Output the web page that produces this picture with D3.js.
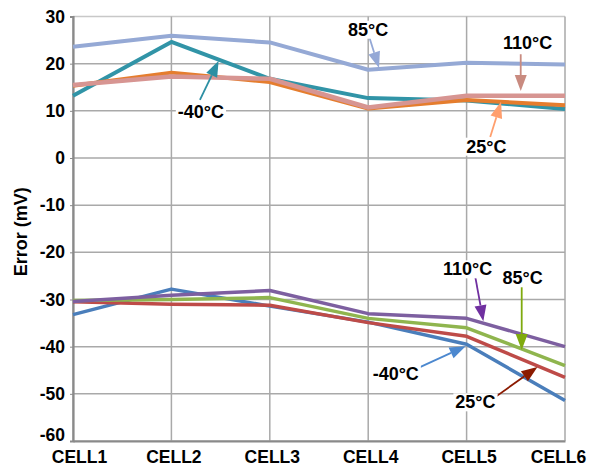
<!DOCTYPE html>
<html>
<head>
<meta charset="utf-8">
<script src="https://cdn.jsdelivr.net/npm/d3@7"></script>
<style>
  body { margin: 0; background: #fff; }
  svg { display: block; font-family: "Liberation Sans", Arial, sans-serif; }
</style>
</head>
<body>
<svg></svg>
<script>
/** Chart values */
const cells = ['CELL1', 'CELL2', 'CELL3', 'CELL4', 'CELL5', 'CELL6'];
const yTicks = [30, 20, 10, 0, -10, -20, -30, -40, -50, -60];

// upper group
const upper85 = [23.6, 25.9, 24.5, 18.7, 20.2, 19.8];
const upperM40 = [13.2, 24.6, 16.8, 12.7, 12.2, 10.4];
const upper25 = [15.3, 18.1, 16.1, 10.5, 12.3, 11.2];
const upper110 = [15.5, 17.3, 16.8, 10.7, 13.2, 13.2];

// lower group
const lowerM40 = [-33.2, -27.8, -31.4, -34.8, -39.5, -51.4];
const lower25 = [-30.5, -31.0, -31.2, -34.9, -37.8, -46.5];
const lower85 = [-30.2, -30.0, -29.6, -34.0, -36.0, -44.0];
const lower110 = [-30.4, -29.1, -28.1, -33.0, -34.0, -40.0];

// annotation labels: text position and arrow [from, to], in (cell index, mV)
const labels = ['-40°C', '85°C', '110°C', '25°C', '110°C', '85°C', '-40°C', '25°C'];
const labelPos = [[1.30, 9.75], [3.0, 27.3], [4.62, 24.4], [4.20, 2.5],
                  [4.01, -23.5], [4.57, -25.4], [3.28, -45.6], [4.09, -51.7]];
const arrowFrom = [[1.29, 12.3], [3.01, 25.7], [4.55, 22.0], [4.24, 4.45],
                   [4.09, -25.4], [4.56, -27.3], [3.51, -44.5], [4.29, -50.7]];
const arrowTo = [[1.48, 20.6], [3.11, 19.1], [4.55, 14.2], [4.35, 11.9],
                 [4.17, -34.6], [4.56, -40.7], [3.99, -39.9], [4.72, -44.3]];

let width = 599;
let height = 466;
let padLeft = 73, padRight = 565, padTop = 16.5, padBottom = 441;

let svg = d3.select('svg').attr('width', width).attr('height', height);

const series = [
    { values: upper85, color: '#95A9D5', w: 4 },
    { values: upperM40, color: '#3194A7', w: 4 },
    { values: upper25, color: '#E57D2E', w: 4 },
    { values: upper110, color: '#D79592', w: 4.5 },
    { values: lowerM40, color: '#4A7EBB', w: 3.5 },
    { values: lower25, color: '#BE4B48', w: 3.5 },
    { values: lower85, color: '#8FB54E', w: 3.5 },
    { values: lower110, color: '#7D5FA0', w: 3.5 }
];
const arrowColors = ['#2C8FA3', '#94A8D6', '#C98B80', '#FF9F6E',
                     '#7030A0', '#7FAA0E', '#4C88CF', '#8B1A00'];

let xScale = d3.scalePoint().domain(cells).range([padLeft, padRight]);
let xIdx = d3.scaleLinear().domain([0, cells.length - 1]).range([padLeft, padRight]);
let yScale = d3.scaleLinear().domain([-60, 30]).range([padBottom, padTop]);

/** Grid */
svg.append('g').selectAll('line')
    .data(yTicks)
    .enter().append('line')
    .attr('x1', padLeft).attr('x2', padRight)
    .attr('y1', d => yScale(d)).attr('y2', d => yScale(d))
    .attr('stroke', d => d === 30 ? '#C8C8C8' : '#A9A9A9')
    .attr('stroke-width', 1.5);

svg.append('g').selectAll('line')
    .data(cells)
    .enter().append('line')
    .attr('x1', d => xScale(d)).attr('x2', d => xScale(d))
    .attr('y1', padTop).attr('y2', padBottom)
    .attr('stroke', '#A9A9A9')
    .attr('stroke-width', 1.5);

/** Axes */
let yAxis = d3.axisLeft(yScale).tickValues(yTicks)
    .tickFormat(d => String(d)) // plain hyphen, not the unicode minus
    .tickSize(3).tickPadding(5);
let xAxis = d3.axisBottom(xScale).tickSize(0).tickPadding(10);

let gy = svg.append('g').attr('transform', `translate(${padLeft},0)`).call(yAxis);
let gx = svg.append('g').attr('transform', `translate(0,${padBottom})`).call(xAxis);

[gx, gy].forEach(g => {
    g.select('.domain').attr('stroke', '#8A8A8A').attr('stroke-width', 2.2);
    g.selectAll('.tick line').attr('stroke', '#8A8A8A');
    g.selectAll('text')
        .attr('font-family', '"Liberation Sans", Arial, sans-serif')
        .attr('font-weight', 'bold')
        .attr('font-size', 17.5)
        .attr('fill', '#000');
});

// end labels are pulled inwards, like in the original
gx.selectAll('.tick text')
    .attr('dx', (d, i) => i === 0 ? 6 : i === cells.length - 1 ? -7 : 2);
gy.selectAll('.tick text')
    .attr('dy', d => d === -60 ? '-0.05em' : '0.32em');

svg.append('text')
    .attr('transform', `translate(27, ${(padTop + padBottom) / 2 + 3}) rotate(-90)`)
    .attr('text-anchor', 'middle')
    .attr('font-weight', 'bold')
    .attr('font-size', 18)
    .text('Error (mV)');

/** Lines */
let line = d3.line()
    .x((d, i) => xScale(cells[i]))
    .y(d => yScale(d));

svg.append('g').selectAll('path')
    .data(series)
    .enter().append('path')
    .attr('d', d => line(d.values))
    .attr('fill', 'none')
    .attr('stroke', d => d.color)
    .attr('stroke-width', d => d.w)
    .attr('stroke-linejoin', 'round');

/** Annotations */
let ann = svg.append('g');

labels.forEach((t, i) => {
    let x1 = xIdx(arrowFrom[i][0]), y1 = yScale(arrowFrom[i][1]);
    let x2 = xIdx(arrowTo[i][0]), y2 = yScale(arrowTo[i][1]);
    let ang = Math.atan2(y2 - y1, x2 - x1);
    let len = 16, half = 6;
    let bx = x2 - len * Math.cos(ang), by = y2 - len * Math.sin(ang);

    ann.append('line')
        .attr('x1', x1).attr('y1', y1).attr('x2', bx).attr('y2', by)
        .attr('stroke', arrowColors[i]).attr('stroke-width', 1.8);

    ann.append('path')
        .attr('d', `M${x2},${y2}L${bx + half * Math.sin(ang)},${by - half * Math.cos(ang)}`
                 + `L${bx - half * Math.sin(ang)},${by + half * Math.cos(ang)}Z`)
        .attr('fill', arrowColors[i]);
});

labels.forEach((t, i) => {
    let cx = xIdx(labelPos[i][0]), cy = yScale(labelPos[i][1]);
    let txt = ann.append('text')
        .attr('x', cx).attr('y', cy)
        .attr('dy', '0.36em')
        .attr('text-anchor', 'middle')
        .attr('font-weight', 'bold')
        .attr('font-size', 18)
        .text(t);
    let bb = txt.node().getBBox();
    ann.insert('rect', () => txt.node())
        .attr('x', bb.x - 2).attr('y', bb.y + 1)
        .attr('width', bb.width + 4).attr('height', bb.height - 2)
        .attr('fill', '#fff');
});
</script>
</body>
</html>
